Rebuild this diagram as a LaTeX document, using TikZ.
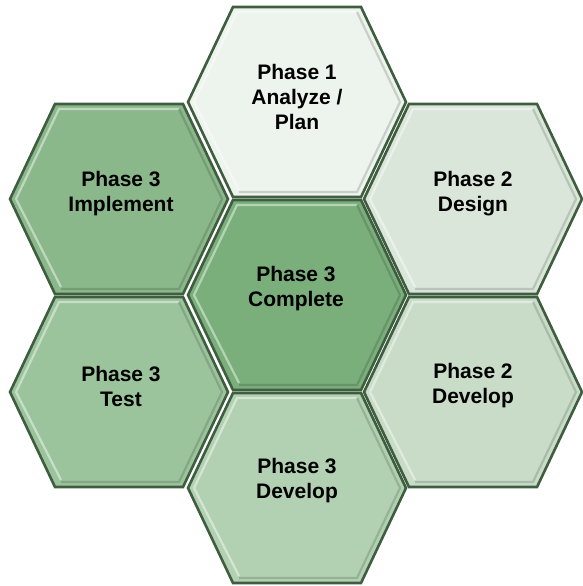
\documentclass[tikz,border=0pt]{standalone}
\usepackage{fontspec}
\setmainfont{Liberation Sans}
\definecolor{hexline}{HTML}{3F5E40}
\definecolor{analyzefill}{HTML}{EDF3ED}
\definecolor{designfill}{HTML}{DAE6DA}
\definecolor{devtwofill}{HTML}{C8DCC8}
\definecolor{devthreefill}{HTML}{B2D1B2}
\definecolor{testfill}{HTML}{9CC49C}
\definecolor{implementfill}{HTML}{8BB88B}
\definecolor{completefill}{HTML}{7AAF7B}

\begin{document}
\begin{tikzpicture}[x=1pt,y=1pt]
		\tikzstyle{every node}+=[inner sep=0pt]
		\tikzstyle{hexcell}=[draw=hexline, line width=2.6pt, line join=miter]
		\tikzstyle{hexlight}=[draw=white, draw opacity=0.45, line width=2.2pt]
		\tikzstyle{hexshade}=[draw=black, draw opacity=0.15, line width=2.2pt]
		\tikzstyle{phase}=[align=center, font=\bfseries\fontsize{21}{25}\selectfont]
		\useasboundingbox (0,0) rectangle (582,-586);
		% cells, outer ring then centre
		\draw [hexcell, fill=analyzefill, shift={(297,-102)}] (-109,0) -- (-64,95) -- (64,95) -- (109,0) -- (64,-95) -- (-64,-95) -- cycle;
		\draw [hexcell, fill=designfill, shift={(473,-199)}] (-109,0) -- (-64,95) -- (64,95) -- (109,0) -- (64,-95) -- (-64,-95) -- cycle;
		\draw [hexcell, fill=devtwofill, shift={(473,-392)}] (-109,0) -- (-64,95) -- (64,95) -- (109,0) -- (64,-95) -- (-64,-95) -- cycle;
		\draw [hexcell, fill=devthreefill, shift={(297,-488)}] (-109,0) -- (-64,95) -- (64,95) -- (109,0) -- (64,-95) -- (-64,-95) -- cycle;
		\draw [hexcell, fill=testfill, shift={(119,-392)}] (-109,0) -- (-64,95) -- (64,95) -- (109,0) -- (64,-95) -- (-64,-95) -- cycle;
		\draw [hexcell, fill=implementfill, shift={(119,-199)}] (-109,0) -- (-64,95) -- (64,95) -- (109,0) -- (64,-95) -- (-64,-95) -- cycle;
		\draw [hexcell, fill=completefill, shift={(297,-295)}] (-109,0) -- (-64,95) -- (64,95) -- (109,0) -- (64,-95) -- (-64,-95) -- cycle;
		% bevel: light upper-left rim, dark lower-right rim
		\foreach \cx/\cy in {297/-102, 473/-199, 473/-392, 297/-488, 119/-392, 119/-199, 297/-295} {
			\draw [hexlight, shift={(\cx,\cy)}] (-58,-88) -- (-103,0) -- (-60,90) -- (60,90);
			\draw [hexshade, shift={(\cx,\cy)}] (60,90) -- (103,0) -- (60,-90) -- (-58,-90);
		}
		% labels
		\node [phase] (analyze) at (297,-97) {Phase 1\\Analyze /\\Plan};
		\node [phase] (design) at (473,-194) {Phase 2\\Design};
		\node [phase] (devtwo) at (473,-386) {Phase 2\\Develop};
		\node [phase] (devthree) at (297,-481) {Phase 3\\Develop};
		\node [phase] (test) at (121,-386) {Phase 3\\Test};
		\node [phase] (implement) at (121,-194) {Phase 3\\Implement};
		\node [phase] (complete) at (296,-289) {Phase 3\\Complete};
	\end{tikzpicture}
\end{document}
